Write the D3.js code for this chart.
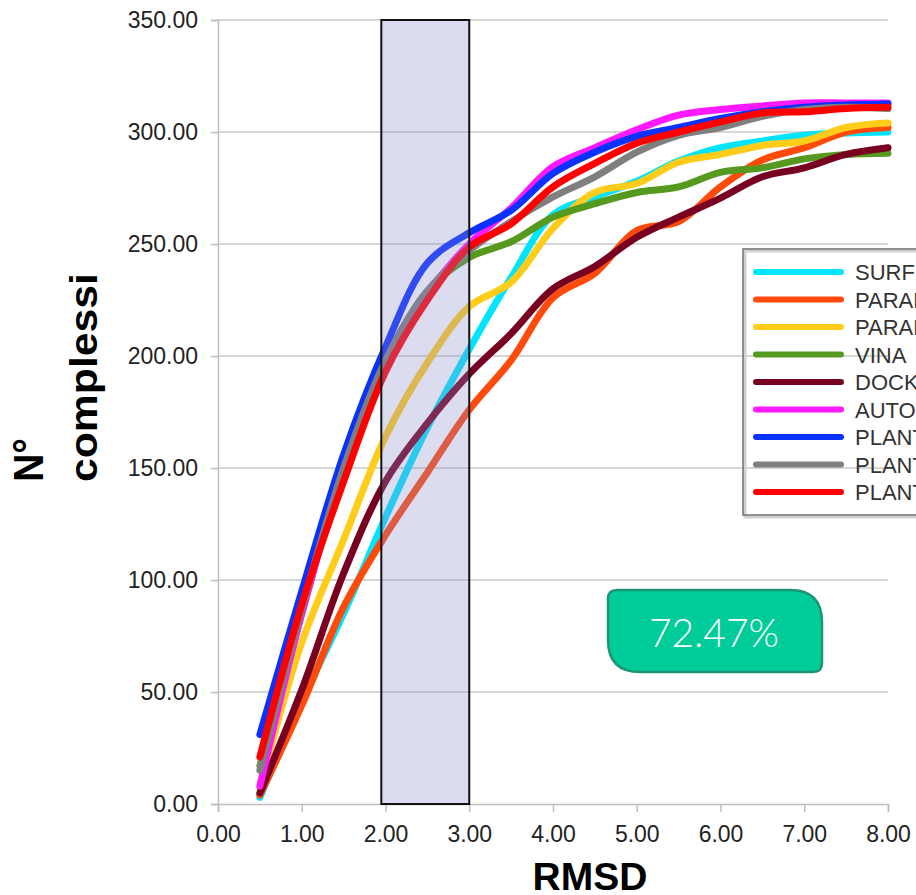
<!DOCTYPE html>
<html>
<head>
<meta charset="utf-8">
<script src="https://d3js.org/d3.v7.min.js"></script>
<style>
  body { margin: 0; background: #fff; }
  svg { display: block; }
</style>
</head>
<body>
<svg id="chart"></svg>
<script>
  // RMSD thresholds (x) and the number of complexes for each docking program
  const rmsd = [0.5, 1, 1.5, 2, 2.5, 3, 3.5, 4, 4.5, 5, 5.5, 6, 6.5, 7, 7.5, 8];

  const surflex   = [3, 46, 85, 128, 168, 203, 235, 263, 271, 278, 287, 293, 296, 298.6, 299.5, 300];
  const paradocks = [4, 44, 88, 120, 148, 176, 198, 226, 237, 256, 260, 275.5, 287.5, 293, 300, 302];
  const paraPlp   = [7, 72, 118, 164, 197, 222, 233, 257, 273, 277, 286.5, 290, 294, 296, 302, 304];
  const vina      = [17, 85, 150, 198, 229, 244, 251, 262, 268, 273, 275.5, 282, 284, 288, 290, 290.5];
  const dock      = [5, 51, 103, 144, 170, 192, 210, 230, 240, 253, 262, 270.5, 280, 284, 290, 293];
  const autodock  = [8, 85, 148, 198, 228, 250, 266, 284.5, 293, 301, 307.5, 310, 311.6, 313, 313, 313];
  const plantsA   = [31, 95, 156, 204, 241.5, 255, 265, 281.5, 291, 298, 302, 306, 309, 311, 312, 312.5];
  const plantsB   = [15, 87, 150, 198, 229, 247, 260, 271, 280, 291, 298.5, 302, 307, 310, 311, 310.5];
  const plantsC   = [21, 89, 144, 193, 225, 248.6, 259, 275.5, 286, 295, 300, 304.5, 308.5, 309, 310.5, 311];

  const seriesNames = ["SURFLEX", "PARADOCKS", "PARADOCKS PLP", "VINA", "DOCK6", "AUTODOCK",
                       "PLANTS PLP", "PLANTS PLP95", "PLANTS CHEMPLP"];
  const seriesValues = [surflex, paradocks, paraPlp, vina, dock, autodock, plantsA, plantsB, plantsC];
  const seriesColors = ["#00e5ff", "#ff4a0a", "#ffcc1a", "#55991e", "#780020", "#ff19ff",
                        "#0a32ff", "#7f7f7f", "#ff0000"];

  const yTicks = [0, 50, 100, 150, 200, 250, 300, 350];
  const xTicks = [0, 1, 2, 3, 4, 5, 6, 7, 8];
  const bandRange = [1.95, 3.0];
  const percentLabel = "72.47%";

  const W = 916, H = 895;
  const svg = d3.select("#chart").attr("width", W).attr("height", H);

  const x = d3.scaleLinear().domain([0, 8]).range([218, 888]);
  const y = d3.scaleLinear().domain([0, 350]).range([804, 20]);

  // gridlines
  svg.append("g")
    .selectAll("line")
    .data(yTicks.slice(1))
    .enter()
    .append("line")
    .attr("x1", x(0)).attr("x2", x(8))
    .attr("y1", d => y(d)).attr("y2", d => y(d))
    .style("stroke", "#c9c9c9")
    .style("stroke-width", 1.5);

  // axes
  const yAxis = svg.append("g")
    .attr("transform", `translate(${x(0)},0)`)
    .call(d3.axisLeft(y).tickValues(yTicks).tickFormat(d3.format(".2f")).tickSize(7).tickPadding(13));
  const xAxis = svg.append("g")
    .attr("transform", `translate(0,${y(0)})`)
    .call(d3.axisBottom(x).tickValues(xTicks).tickFormat(d3.format(".2f")).tickSize(8).tickPadding(14));

  [yAxis, xAxis].forEach(ax => {
    ax.select(".domain").style("stroke", "#bdbdbd").style("stroke-width", 1.5);
    ax.selectAll(".tick line").style("stroke", "#bdbdbd").style("stroke-width", 1.5);
    ax.selectAll(".tick text")
      .style("font-family", "'Liberation Sans', Arial, sans-serif")
      .style("font-size", "23px")
      .style("fill", "#222");
  });

  // curves
  const line = d3.line()
    .x((d, i) => x(rmsd[i]))
    .y(d => y(d))
    .curve(d3.curveCatmullRom.alpha(0.5));

  svg.append("g")
    .selectAll("path")
    .data(seriesValues)
    .enter()
    .append("path")
    .attr("d", d => line(d))
    .style("fill", "none")
    .style("stroke", (d, i) => seriesColors[i])
    .style("stroke-width", 7)
    .style("stroke-linecap", "round")
    .style("stroke-linejoin", "round");

  // highlighted RMSD band
  svg.append("rect")
    .attr("x", x(bandRange[0]))
    .attr("y", y(350))
    .attr("width", x(bandRange[1]) - x(bandRange[0]))
    .attr("height", y(0) - y(350))
    .style("fill", "#8a8acd")
    .style("fill-opacity", 0.3)
    .style("stroke", "#111")
    .style("stroke-width", 2);

  // legend
  const legend = svg.append("g").attr("transform", "translate(743,249)");
  legend.append("rect")
    .attr("x", 2).attr("y", 2)
    .attr("width", 200).attr("height", 266)
    .style("fill", "none")
    .style("stroke", "#d0d0d0")
    .style("stroke-width", 3);
  legend.append("rect")
    .attr("width", 200).attr("height", 266)
    .style("fill", "none")
    .style("stroke", "#6e6e6e")
    .style("stroke-width", 1.5);

  const items = legend.selectAll(".item")
    .data(seriesNames)
    .enter()
    .append("g")
    .attr("transform", (d, i) => `translate(0,${23 + i * 27.5})`);
  items.append("line")
    .attr("x1", 13).attr("x2", 98)
    .style("stroke", (d, i) => seriesColors[i])
    .style("stroke-width", 6)
    .style("stroke-linecap", "round");
  items.append("text")
    .attr("x", 112)
    .attr("y", 8)
    .style("font-family", "'Liberation Sans', Arial, sans-serif")
    .style("font-size", "22px")
    .style("fill", "#333")
    .text(d => d);

  // percentage badge
  const bx0 = 608, bx1 = 822, by0 = 590, by1 = 672;
  const rs = 9, rl = 32;
  const badge = `M${bx0 + rs},${by0} L${bx1 - rl},${by0} Q${bx1},${by0} ${bx1},${by0 + rl}
    L${bx1},${by1 - rs} Q${bx1},${by1} ${bx1 - rs},${by1} L${bx0 + rl},${by1}
    Q${bx0},${by1} ${bx0},${by1 - rl} L${bx0},${by0 + rs} Q${bx0},${by0} ${bx0 + rs},${by0} Z`;
  svg.append("path")
    .attr("d", badge)
    .style("fill", "#00cc99")
    .style("stroke", "#1c9674")
    .style("stroke-width", 2.5);
  svg.append("text")
    .attr("x", (bx0 + bx1) / 2 - 1)
    .attr("y", 647)
    .attr("text-anchor", "middle")
    .style("font-family", "Lato, 'Open Sans', sans-serif")
    .style("font-weight", 300)
    .style("font-size", "39px")
    .style("fill", "#fff")
    .text(percentLabel);

  // axis titles
  svg.append("text")
    .attr("x", 590)
    .attr("y", 890)
    .attr("text-anchor", "middle")
    .style("font-family", "'Liberation Sans', Arial, sans-serif")
    .style("font-weight", "bold")
    .style("font-size", "39px")
    .style("fill", "#000")
    .text("RMSD");

  svg.append("text")
    .attr("transform", "translate(43,482) rotate(-90)")
    .attr("textLength", 44)
    .attr("lengthAdjust", "spacingAndGlyphs")
    .style("font-family", "'Liberation Sans', Arial, sans-serif")
    .style("font-weight", "bold")
    .style("font-size", "42px")
    .text("N°");

  svg.append("text")
    .attr("transform", "translate(97,482) rotate(-90)")
    .attr("textLength", 209)
    .attr("lengthAdjust", "spacingAndGlyphs")
    .style("font-family", "'Liberation Sans', Arial, sans-serif")
    .style("font-weight", "bold")
    .style("font-size", "38px")
    .text("complessi");
</script>
</body>
</html>
